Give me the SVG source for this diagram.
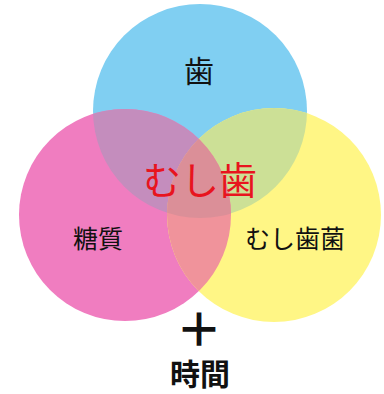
<svg xmlns="http://www.w3.org/2000/svg" width="384" height="394" viewBox="0 0 384 394">
<style>
.t{font-family:"Noto Sans CJK JP","Noto Sans CJK SC",sans-serif;text-anchor:middle;fill:#111}
</style>
<defs>
<clipPath id="cb"><circle cx="200" cy="111" r="107"/></clipPath>
<clipPath id="cp"><circle cx="125" cy="215" r="106"/></clipPath>
<clipPath id="cy"><circle cx="274" cy="215" r="107"/></clipPath>
</defs>
<rect width="384" height="394" fill="#fff"/>
<g id="blue"><circle cx="200" cy="111" r="107" fill="#80CFF2"/></g>
<g id="pink"><circle cx="125" cy="215" r="106" fill="#F07DC0"/></g>
<g id="yellow"><circle cx="274" cy="215" r="107" fill="#FFF685"/></g>
<g id="overlaps">
<g clip-path="url(#cb)"><circle cx="125" cy="215" r="106" fill="#C48DBD"/><circle cx="274" cy="215" r="107" fill="#CCE096"/></g>
<g clip-path="url(#cp)"><circle cx="274" cy="215" r="107" fill="#F0939B"/></g>
<g clip-path="url(#cp)"><g clip-path="url(#cb)"><circle cx="274" cy="215" r="107" fill="#DB8F98"/></g></g>
</g>
<g id="labels">
<text class="t" x="199" y="82" font-size="30">歯</text>
<text class="t" x="200" y="194" font-size="38" style="fill:#E8141E">むし歯</text>
<text class="t" x="98" y="248" font-size="25">糖質</text>
<text class="t" x="295" y="248" font-size="25">むし歯菌</text>
<text class="t" x="199" y="346" font-size="46" font-weight="bold">＋</text>
<text class="t" x="200" y="385" font-size="30" font-weight="bold">時間</text>
</g>
</svg>
